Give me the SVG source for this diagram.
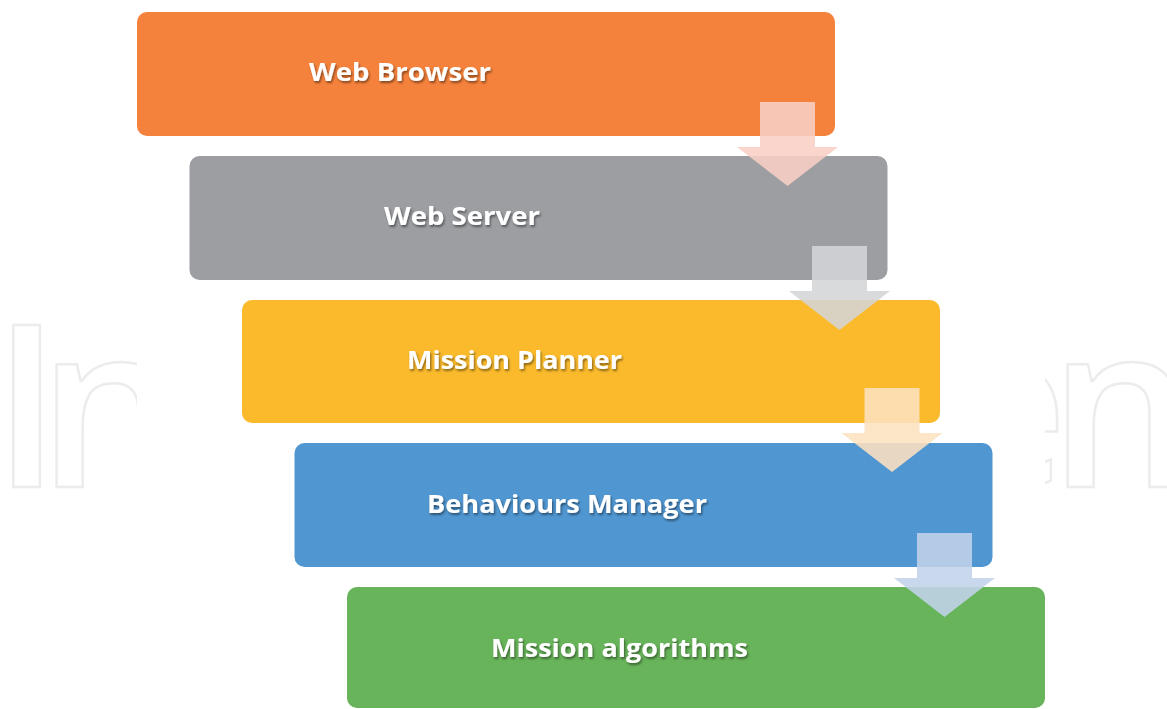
<svg xmlns="http://www.w3.org/2000/svg" xmlns:xlink="http://www.w3.org/1999/xlink" width="1167" height="709" viewBox="0 0 1167 709">
  <style>
    .box { stroke: none; }
    .label { font-family: "Open Sans", "Liberation Sans", sans-serif; font-weight: 700; font-size: 25px; fill: #ffffff; filter: url(#shadow); }
    .wm { font-family: "Open Sans", "Liberation Sans", sans-serif; font-weight: 600; font-size: 227px; fill: #ffffff; stroke: #ebeced; stroke-width: 2.5; }
    .arrow { opacity: 0.88; }
  </style>
  <defs>
    <filter id="shadow" x="-10%" y="-30%" width="120%" height="170%">
      <feDropShadow dx="1.2" dy="2" stdDeviation="1.2" flood-color="#000000" flood-opacity="0.45"/>
    </filter>
    <clipPath id="clipL"><rect x="0" y="0" width="137" height="709"/></clipPath>
    <clipPath id="clipR"><rect x="1045" y="0" width="122" height="709"/></clipPath>
    <path id="arrow" d="M-27.5,0 H27.5 V45 H50.5 L0,84 L-50.5,45 H-27.5 Z"/>
  </defs>
  <rect width="1167" height="709" fill="#ffffff"/>
  <g id="watermark">
    <text class="wm" x="-8 38" y="487" clip-path="url(#clipL)">In</text>
    <text class="wm" x="937 1049" y="487" clip-path="url(#clipR)">en</text>
  </g>
  <g id="node-web-browser">
    <rect class="box" x="137" y="12" width="698" height="124" rx="10" fill="#f5823c"/>
    <text class="label" x="309" y="81" textLength="182" lengthAdjust="spacingAndGlyphs">Web Browser</text>
  </g>
  <g id="node-web-server">
    <rect class="box" x="189.5" y="156" width="698" height="124" rx="10" fill="#9c9ea2"/>
    <text class="label" x="384" y="225" textLength="156" lengthAdjust="spacingAndGlyphs">Web Server</text>
  </g>
  <g id="node-mission-planner">
    <rect class="box" x="242" y="300" width="698" height="123" rx="10" fill="#fbba2c"/>
    <text class="label" x="407" y="369" textLength="215" lengthAdjust="spacingAndGlyphs">Mission Planner</text>
  </g>
  <g id="node-behaviours-manager">
    <rect class="box" x="294.5" y="443" width="698" height="124" rx="10" fill="#5096d1"/>
    <text class="label" x="427" y="513" textLength="280" lengthAdjust="spacingAndGlyphs">Behaviours Manager</text>
  </g>
  <g id="node-mission-algorithms">
    <rect class="box" x="347" y="587" width="698" height="121" rx="10" fill="#68b45a"/>
    <text class="label" x="491" y="657" textLength="257" lengthAdjust="spacingAndGlyphs">Mission algorithms</text>
  </g>
  <g id="connectors">
    <use href="#arrow" class="arrow" x="787.5" y="102" fill="#f8cfc5"/>
    <use href="#arrow" class="arrow" x="839.5" y="246" fill="#d4d5d7"/>
    <use href="#arrow" class="arrow" x="892" y="388" fill="#fde1c0"/>
    <use href="#arrow" class="arrow" x="944.5" y="533" fill="#c2d3ea"/>
  </g>
</svg>
